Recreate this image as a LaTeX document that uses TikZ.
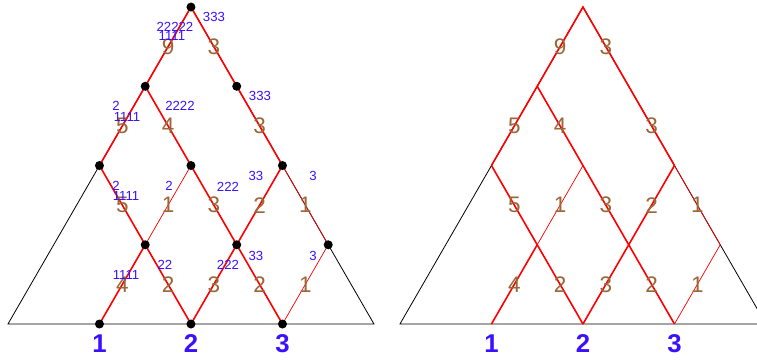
\documentclass[tikz,border=0pt]{standalone}
\usepackage{fontspec}
\setmainfont{Liberation Sans}
\usetikzlibrary{positioning}

\definecolor{wbrown}{HTML}{9A6838}
\definecolor{tagblue}{HTML}{3A10FF}

\begin{document}
\begin{tikzpicture}[x=2cm, y=2cm,
  tri/.style={black, line width=0.5pt},
  edge/.style={red, line width=1pt},
  thinedge/.style={red, line width=0.45pt},
  wt/.style={text=wbrown, inner sep=0pt, font=\fontsize{14}{16}\selectfont},
  tag/.style={text=tagblue, inner sep=0pt, font=\fontsize{8.2}{9}\selectfont},
  num/.style={text=tagblue, inner sep=0pt, font=\fontsize{16}{18}\selectfont\bfseries}]

  \useasboundingbox (-0.087,-0.393) rectangle (8.186,3.541);
  \clip (-0.087,-0.393) rectangle (8.186,3.541);

  % the same network twice: left (a) and right (b)
  \foreach \side/\dx in {a/0, b/4.284} {
    % lattice points, row by row
    \foreach \j in {0,...,4} {
      \pgfmathtruncatemacro\last{4-\j}
      \foreach \i in {0,...,\last}
        \coordinate (\side\i\j) at (\dx+\i+0.5*\j, 0.866*\j);
    }

    % outer triangle
    \draw[tri] (\side00) -- (\side40) -- (\side04) -- cycle;

    % weighted paths
    \draw[edge] (\side02) -- node[wt] (\side w0203) {5} (\side03)
      -- node[wt] (\side w0304) {9} (\side04)
      -- node[wt] (\side w0413) {3} (\side13)
      -- node[wt] (\side w1322) {3} (\side22);
    \draw[thinedge] (\side22) -- node[wt] (\side w2231) {1} (\side31);
    \draw[edge] (\side03) -- node[wt] (\side w0312) {4} (\side12)
      -- node[wt] (\side w1221) {3} (\side21)
      -- node[wt] (\side w2130) {2} (\side30);
    \draw[edge] (\side02) -- node[wt] (\side w0211) {5} (\side11)
      -- node[wt] (\side w1120) {2} (\side20);
    \draw[edge] (\side10) -- node[wt] (\side w1011) {4} (\side11);
    \draw[thinedge] (\side11) -- node[wt] (\side w1112) {1} (\side12);
    \draw[edge] (\side20) -- node[wt] (\side w2021) {3} (\side21)
      -- node[wt] (\side w2122) {2} (\side22);
    \draw[thinedge] (\side30) -- node[wt] (\side w3031) {1} (\side31);

    % sources on the base
    \node[num, below=6.5pt of \side10] (\side n1) {1};
    \node[num, below=6.5pt of \side20] (\side n2) {2};
    \node[num, below=6.5pt of \side30] (\side n3) {3};
  }

  % vertices of the left network
  \foreach \p in {10,20,30,11,21,31,02,12,22,03,13,04}
    \fill (a\p) circle (2.8pt);

  % counts at the vertices
  \node[tag] (c1) at (2.251,3.355) {333};
  \node[tag] (c2) at (1.825,3.246) {22222};
  \node[tag] (c3) at (1.792,3.148) {1111};
  \node[tag] (c4) at (1.180,2.383) {2};
  \node[tag] (c5) at (1.301,2.262) {1111};
  \node[tag] (c6) at (1.880,2.383) {2222};
  \node[tag] (c7) at (2.754,2.492) {333};
  \node[tag] (c8) at (1.180,1.508) {2};
  \node[tag] (c9) at (1.290,1.399) {1111};
  \node[tag] (c10) at (1.760,1.508) {2};
  \node[tag] (c11) at (2.404,1.497) {222};
  \node[tag] (c12) at (2.710,1.617) {33};
  \node[tag] (c13) at (3.333,1.617) {3};
  \node[tag] (c14) at (1.290,0.536) {1111};
  \node[tag] (c15) at (1.716,0.645) {22};
  \node[tag] (c16) at (2.404,0.645) {222};
  \node[tag] (c17) at (2.710,0.743) {33};
  \node[tag] (c18) at (3.333,0.743) {3};

\end{tikzpicture}
\end{document}
